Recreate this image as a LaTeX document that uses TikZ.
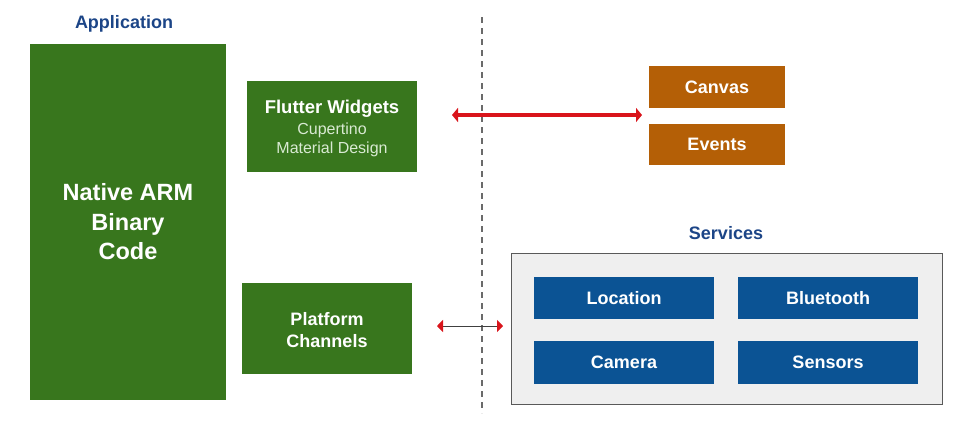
\documentclass[tikz,border=0pt]{standalone}
\usepackage{fontspec}
\setmainfont{Liberation Sans}
\usetikzlibrary{arrows.meta}
\definecolor{appgreen}{HTML}{38761D}
\definecolor{lightgreen}{HTML}{D9EAD3}
\definecolor{orng}{HTML}{B45F06}
\definecolor{svcblue}{HTML}{0B5394}
\definecolor{navy}{HTML}{1C4587}
\definecolor{svcbg}{HTML}{EFEFEF}
\definecolor{svcborder}{HTML}{595959}
\definecolor{arrred}{HTML}{D9141B}
\tikzset{
  box/.style={draw=none, inner sep=0pt, align=center, text=white, font=\bfseries},
  greenbox/.style={box, fill=appgreen},
  lbl/.style={inner sep=0pt, align=center, text=white},
  orangebox/.style={box, fill=orng, font=\bfseries\fontsize{18}{20}\selectfont},
  bluebox/.style={box, fill=svcblue, font=\bfseries\fontsize{18}{20}\selectfont},
  title/.style={text=navy, font=\bfseries\fontsize{18}{20}\selectfont},
}
\begin{document}
\begin{tikzpicture}[x=1pt,y=-1pt]
\useasboundingbox (0,0) rectangle (960,429);
% Application
\node[title] (apptitle) at (124,24) {Application};
\node[greenbox, minimum width=196pt, minimum height=356pt, font=\bfseries\fontsize{23.5}{29.5}\selectfont] (native) at (128,222) {Native ARM\\Binary\\Code};
\node[greenbox, minimum width=170pt, minimum height=91pt] (flutter) at (332,126.5) {};
\node[lbl, font=\fontsize{16}{19.5}\selectfont] (flutterlbl) at ([yshift=-2pt]flutter.center)
  {{\bfseries\fontsize{18.5}{20}\selectfont Flutter Widgets}\\[1.5pt]
   {\color{lightgreen}Cupertino}\\
   {\color{lightgreen}Material Design}};
\node[greenbox, minimum width=170pt, minimum height=91pt] (platform) at (327,328.5) {};
\node[lbl, font=\bfseries\fontsize{18}{22}\selectfont] (platformlbl) at ([yshift=-2pt]platform.center) {Platform\\Channels};
% divider
\coordinate (dtop) at (482,17);
\coordinate (dbot) at (482,413);
\draw[color=svcborder!90, line width=1.6pt, dash pattern=on 6pt off 5pt] (dtop) -- (dbot);
% Canvas / Events
\node[orangebox, minimum width=136pt, minimum height=42pt] (canvas) at (717,87) {Canvas};
\node[orangebox, minimum width=136pt, minimum height=41pt] (events) at (717,144.5) {Events};
% Services
\node[title] (svctitle) at (726,233) {Services};
\node[draw=svcborder, fill=svcbg, line width=0.8pt, minimum width=431pt, minimum height=151pt, inner sep=0pt] (services) at (726.5,328.5) {};
\node[bluebox, minimum width=180pt, minimum height=42pt] (location) at (624,298) {Location};
\node[bluebox, minimum width=180pt, minimum height=42pt] (bluetooth) at (828,298) {Bluetooth};
\node[bluebox, minimum width=180pt, minimum height=43pt] (camera) at (624,362.5) {Camera};
\node[bluebox, minimum width=180pt, minimum height=43pt] (sensors) at (828,362.5) {Sensors};
% arrows
\coordinate (a1l) at (452,115);
\coordinate (a1r) at (642,115);
\draw[arrred, line width=3.5pt, {Triangle[length=6pt,width=14pt]}-{Triangle[length=6pt,width=14pt]}] (a1l) -- (a1r);
\coordinate (a2l) at (437,326);
\coordinate (a2r) at (503,326);
\draw[color=black!75, line width=1pt, {Triangle[length=6pt,width=12pt,color=arrred]}-{Triangle[length=6pt,width=12pt,color=arrred]}] (a2l) -- (a2r);
\end{tikzpicture}
\end{document}
